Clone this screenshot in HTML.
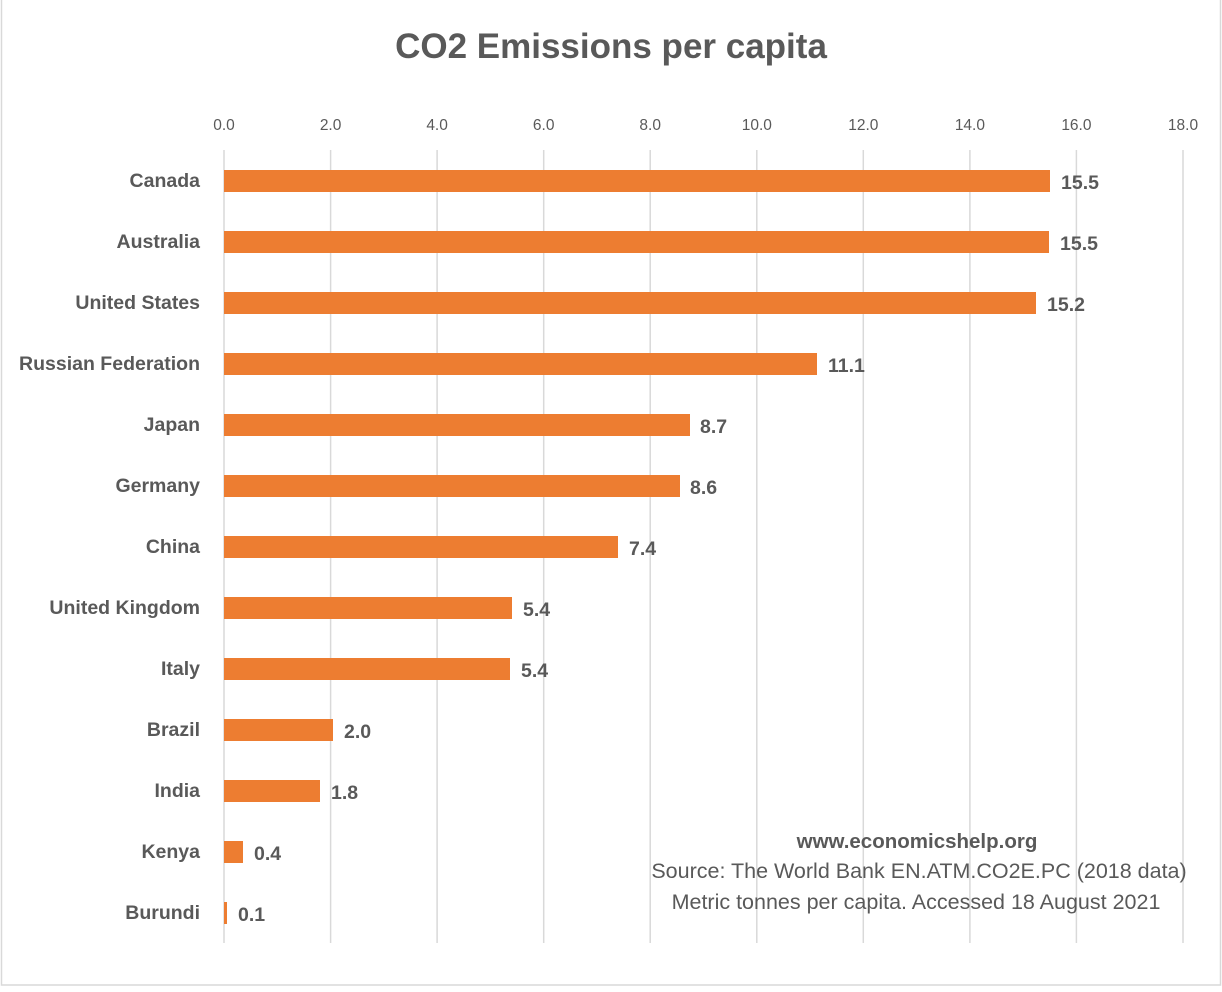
<!DOCTYPE html>
<html><head><style>
body{margin:0;background:#fff;}
svg text{font-family:"Liberation Sans",sans-serif;fill:#595959;}
</style></head><body>
<svg width="1222" height="987" viewBox="0 0 1222 987" xmlns="http://www.w3.org/2000/svg">
<rect x="1.5" y="-2" width="1219" height="987" fill="#fff" stroke="#d9d9d9" stroke-width="1.5"/>
<text x="611" y="58" text-anchor="middle" font-size="35" font-weight="bold">CO2 Emissions per capita</text>
<g stroke="#d9d9d9" stroke-width="1.5">
<line x1="224" y1="150" x2="224" y2="943"/><line x1="330.6" y1="150" x2="330.6" y2="943"/><line x1="437.1" y1="150" x2="437.1" y2="943"/><line x1="543.7" y1="150" x2="543.7" y2="943"/><line x1="650.2" y1="150" x2="650.2" y2="943"/><line x1="756.8" y1="150" x2="756.8" y2="943"/><line x1="863.3" y1="150" x2="863.3" y2="943"/><line x1="969.9" y1="150" x2="969.9" y2="943"/><line x1="1076.4" y1="150" x2="1076.4" y2="943"/><line x1="1183" y1="150" x2="1183" y2="943"/>
</g>
<g font-size="15.5" text-anchor="middle">
<text x="224" y="130">0.0</text><text x="330.6" y="130">2.0</text><text x="437.1" y="130">4.0</text><text x="543.7" y="130">6.0</text><text x="650.2" y="130">8.0</text><text x="756.8" y="130">10.0</text><text x="863.3" y="130">12.0</text><text x="969.9" y="130">14.0</text><text x="1076.4" y="130">16.0</text><text x="1183" y="130">18.0</text>
</g>
<g fill="#ed7d31">
<rect x="224" y="170" width="826" height="22"/>
<rect x="224" y="231" width="825" height="22"/>
<rect x="224" y="292" width="812" height="22"/>
<rect x="224" y="353" width="593" height="22"/>
<rect x="224" y="414" width="466" height="22"/>
<rect x="224" y="475" width="456" height="22"/>
<rect x="224" y="536" width="394" height="22"/>
<rect x="224" y="597" width="288" height="22"/>
<rect x="224" y="658" width="286" height="22"/>
<rect x="224" y="719" width="109" height="22"/>
<rect x="224" y="780" width="96" height="22"/>
<rect x="224" y="841" width="19" height="22"/>
<rect x="224" y="902" width="3" height="22"/>
</g>
<g font-size="19.5" font-weight="bold" text-anchor="end">
<text x="200" y="187">Canada</text><text x="200" y="248">Australia</text><text x="200" y="309">United States</text><text x="200" y="370">Russian Federation</text><text x="200" y="431">Japan</text><text x="200" y="492">Germany</text><text x="200" y="553">China</text><text x="200" y="614">United Kingdom</text><text x="200" y="675">Italy</text><text x="200" y="736">Brazil</text><text x="200" y="797">India</text><text x="200" y="858">Kenya</text><text x="200" y="919">Burundi</text>
</g>
<g font-size="19.5" font-weight="bold">
<text x="1061" y="189">15.5</text><text x="1060" y="250">15.5</text><text x="1047" y="311">15.2</text><text x="828" y="372">11.1</text><text x="700" y="433">8.7</text><text x="690" y="494">8.6</text><text x="629" y="555">7.4</text><text x="523" y="616">5.4</text><text x="521" y="677">5.4</text><text x="344" y="738">2.0</text><text x="331" y="799">1.8</text><text x="254" y="860">0.4</text><text x="238" y="921">0.1</text>
</g>
<g font-size="21.5" text-anchor="middle">
<text x="917" y="848" font-weight="bold" font-size="20.5">www.economicshelp.org</text>
<text x="919" y="878">Source: The World Bank EN.ATM.CO2E.PC (2018 data)</text>
<text x="916" y="909">Metric tonnes per capita. Accessed 18 August 2021</text>
</g>
</svg>
</body></html>
